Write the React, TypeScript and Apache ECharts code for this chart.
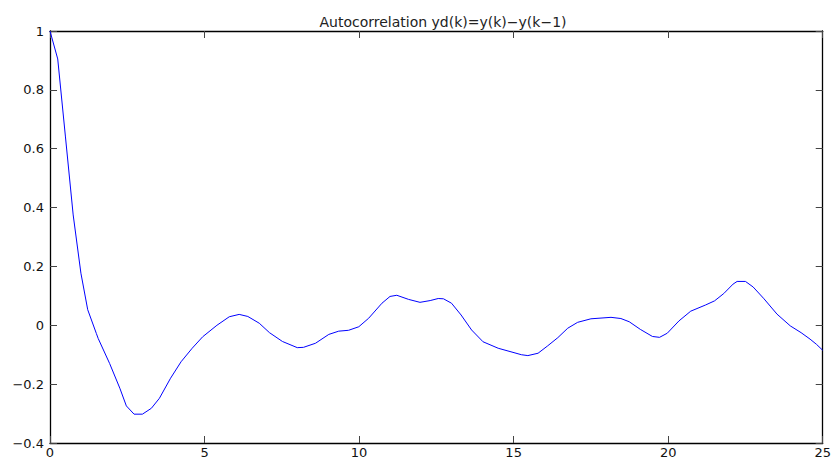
import React, { useEffect, useRef } from "react";
import * as echarts from "echarts";

const TITLE = "Autocorrelation yd(k)=y(k)\u2212y(k\u22121)";

const xTicks = [0, 5, 10, 15, 20, 25];
const yTicks = [-0.4, -0.2, 0, 0.2, 0.4, 0.6, 0.8, 1];

const lagX = [
  0, 0.25, 0.5, 0.75, 1.0, 1.22, 1.5, 1.56, 1.93, 2.26, 2.47, 2.72, 2.99, 3.28, 3.54, 3.9,
  4.24, 4.6, 4.94, 5.4, 5.8, 6.12, 6.4, 6.77, 7.1, 7.52, 8.0, 8.2, 8.59, 9.02, 9.34, 9.66,
  9.99, 10.31, 10.74, 11.0, 11.22, 11.6, 11.97, 12.3, 12.56, 12.73, 12.99, 13.3, 13.64,
  14.01, 14.5, 15.25, 15.46, 15.79, 16.1, 16.43, 16.75, 17.07, 17.5, 18.15, 18.47, 18.74,
  19.1, 19.49, 19.72, 19.97, 20.35, 20.73, 21.21, 21.5, 21.8, 22.1, 22.23, 22.5, 22.75,
  23.1, 23.52, 23.95, 24.3, 24.59, 24.8, 25,
];
const acfY = [
  1.0, 0.905, 0.64, 0.375, 0.177, 0.053, -0.028, -0.045, -0.13, -0.214, -0.274, -0.302,
  -0.302, -0.282, -0.248, -0.18, -0.124, -0.078, -0.039, 0.0, 0.029, 0.037, 0.03, 0.007,
  -0.025, -0.055, -0.076, -0.075, -0.061, -0.031, -0.02, -0.017, -0.005, 0.024, 0.075,
  0.098, 0.102, 0.088, 0.078, 0.084, 0.091, 0.09, 0.075, 0.035, -0.016, -0.056, -0.078,
  -0.1, -0.103, -0.095, -0.07, -0.042, -0.01, 0.01, 0.022, 0.027, 0.023, 0.012, -0.014,
  -0.038, -0.041, -0.027, 0.015, 0.048, 0.069, 0.083, 0.108, 0.14, 0.149, 0.149, 0.13,
  0.09, 0.038, -0.002, -0.025, -0.047, -0.065, -0.085,
];

const FONT = "'DejaVu Sans', Verdana, sans-serif";

function fmt(v: number): string {
  const r = Math.round(v * 10) / 10;
  const s = String(Math.abs(r));
  return r < 0 ? "\u2212" + s : s;
}

export default function App() {
  const ref = useRef<HTMLDivElement>(null);

  useEffect(() => {
    if (!ref.current) return;
    const chart = echarts.init(ref.current, undefined, { renderer: "svg" });
    const axisLine = { show: true, onZero: false, lineStyle: { color: "#000", width: 1.3 } };
    const tick = { show: true, inside: true, length: 7, lineStyle: { color: "#444", width: 1 } };
    chart.setOption({
      animation: false,
      backgroundColor: "#fff",
      title: {
        text: TITLE,
        left: 438,
        textAlign: "center",
        top: 10,
        textStyle: { fontFamily: FONT, fontSize: 14, fontWeight: "normal", color: "#222" },
      },
      grid: { left: 50, right: 8, top: 31, bottom: 19, containLabel: false },
      xAxis: [
        {
          type: "value",
          min: xTicks[0],
          max: xTicks[xTicks.length - 1],
          interval: 5,
          position: "bottom",
          axisLine,
          axisTick: tick,
          splitLine: { show: false },
          axisLabel: { fontFamily: FONT, fontSize: 13, color: "#111", margin: 3 },
        },
        {
          type: "value",
          min: xTicks[0],
          max: xTicks[xTicks.length - 1],
          interval: 5,
          position: "top",
          axisLine,
          axisTick: tick,
          splitLine: { show: false },
          axisLabel: { show: false },
        },
      ],
      yAxis: [
        {
          type: "value",
          min: yTicks[0],
          max: yTicks[yTicks.length - 1],
          interval: 0.2,
          position: "left",
          axisLine,
          axisTick: tick,
          splitLine: { show: false },
          axisLabel: {
            fontFamily: FONT,
            fontSize: 13,
            color: "#111",
            margin: 6,
            formatter: (v: number) => fmt(v),
          },
        },
        {
          type: "value",
          min: yTicks[0],
          max: yTicks[yTicks.length - 1],
          interval: 0.2,
          position: "right",
          axisLine,
          axisTick: tick,
          splitLine: { show: false },
          axisLabel: { show: false },
        },
      ],
      series: [
        {
          type: "line",
          data: lagX.map((x, i) => [x, acfY[i]]),
          showSymbol: false,
          symbol: "none",
          lineStyle: { color: "#0000ff", width: 1 },
          xAxisIndex: 0,
          yAxisIndex: 0,
        },
      ],
    });
    return () => chart.dispose();
  }, []);

  return (
    <div
      ref={ref}
      style={{ position: "fixed", left: 0, top: 0, width: 834, height: 462, background: "#fff" }}
    />
  );
}
